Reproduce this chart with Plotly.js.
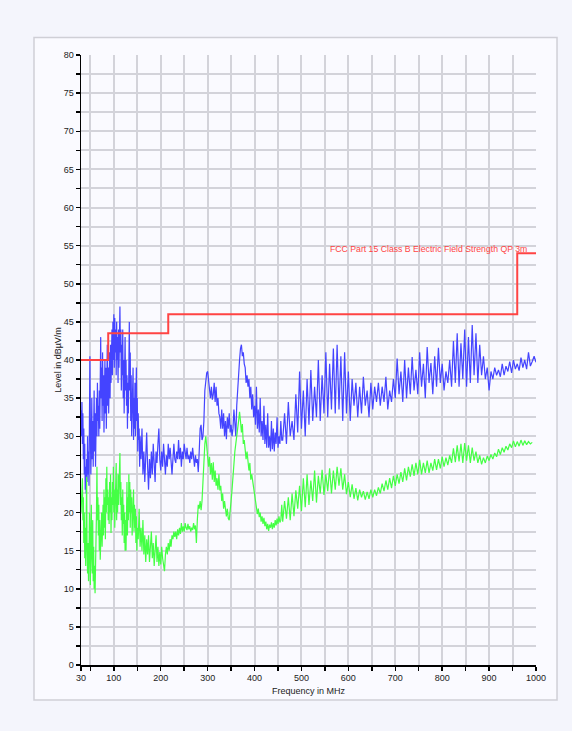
<!DOCTYPE html>
<html>
<head>
<meta charset="utf-8">
<script src="https://cdn.plot.ly/plotly-3.0.1.min.js"></script>
<style>html,body{margin:0;padding:0;background:#f4f5fc;}</style>
</head>
<body>
<div id="chart" style="width:572px;height:731px;"></div>
<script>
// Peak trace (blue)
const peakFreq = [30,31,32,33,34,35,36,37,38,39,40,41,42,43,44,45,46,47,48,49,50,51,52,53,54,55,56,57,58,59,60,61,62,63,64,65,66,67,68,69,70,71,72,73,74,75,76,77,78,79,80,81,82,83,84,85,86,87,88,89,90,91,92,93,94,95,96,97,98,99,100,101,102,103,104,105,106,107,108,109,110,111,112,113,114,115,116,117,118,119,120,121,122,123,124,125,126,127,128,129,130,131,132,133,134,135,136,137,138,139,140,141,142,143,144,145,146,147,148,149,150,151,152,153,154,155,156,158,160,162,164,166,168,170,172,174,176,178,180,182,184,186,188,190,192,194,196,198,200,202,204,206,208,210,212,214,216,218,220,222,224,226,228,230,232,234,236,238,240,242,244,246,248,250,252,254,256,258,260,262,264,266,268,270,272,274,276,278,280,282,284,286,288,290,292,294,296,298,300,302,304,306,308,310,312,314,316,318,320,322,324,326,328,330,332,334,336,338,340,342,344,346,348,350,352,354,356,358,360,362,364,366,368,370,372,374,376,378,380,382,384,386,388,390,392,394,396,398,400,402,404,406,408,410,412,414,416,418,420,422,424,426,428,430,432,434,436,438,440,442,444,446,448,450,452,454,456,458,460,464,468,472,476,480,484,488,492,496,500,504,508,512,516,520,524,528,532,536,540,544,548,552,556,560,564,568,572,576,580,584,588,592,596,600,604,608,612,616,620,624,628,632,636,640,644,648,652,656,660,664,668,672,676,680,684,688,692,696,700,704,708,712,716,720,724,728,732,736,740,744,748,752,756,760,764,768,772,776,780,784,788,792,796,800,804,808,812,816,820,824,828,832,836,840,844,848,852,856,860,864,868,872,876,880,884,888,892,896,900,904,908,912,916,920,924,928,932,936,940,944,948,952,956,960,964,968,972,976,980,984,988,992,996,1000];
const peakLevel = [33.4,30,34.5,29,33,27,31,25,29,23,26,22.5,27,24,30,25,28,23.5,31,40.5,31,25,29,35,27,32,26,30,36,28,33,26,31,35,30,37,32,34,30,36,31,38,43,35,39,32,41,34,38,30.5,36,40,33,39,31,37,42,34,39,33,38,41,35,42,37,40,44,38,45,40,46,39,45.5,41,44,38,45,40,43,37,44,39,46,47,41,44,36,42,38,44,35,40,33,39,43,36,40,34,38,31,37,33,40,45,36,41,32,38,30,36,33,39,29.5,35,31,37,30,34,39,32,35,28,33,29.5,31,26,30,27,31,25,28,24,29,30.5,26,23,27,24.5,28,25,29,26,24,28,26.5,29,31,27,25.5,28,26,29,27,25,27.5,26,29,27,28.5,26,25,27,29,27,26.5,28,27,29.5,27,28.5,26,28,27,29,28,27,28.5,27,27.5,26.5,28,27,28.5,27,26,27.5,26.5,27,25.3,28,31,31.5,29.5,30,32,36,37.5,38.3,38.5,37.5,36,35,36.5,34.8,35.5,37,34.5,36.5,34,35,33,32.5,31,33.5,31,33,30,32,29.6,32.5,31,33,30.5,31.5,30,31,33.5,32,30,34,36.5,38.5,40,41.5,42,40.5,41,39.5,39,37,38,36.5,37.5,35,36.5,33.5,35.5,32.5,34,31.5,36.5,31,33.5,30.5,35,30,32,29.5,34,29,31.5,28.5,33,28.5,30,28,32,28.3,31,28,30.5,29,32.5,28.5,30,29,32,29.5,29.5,33,29,34.5,30,32,29.5,35.5,30.5,38.5,31,36,30,37.5,31.5,38.7,32,36.5,32.5,40,32,38,33,41,32.5,39.5,33.5,41.5,33,42,33.5,40.5,32,41,33,38.5,32,37.5,34,37,32.5,36.5,33,37.8,34,36,32.5,37,33.5,36.5,34.5,37,34,36.5,34.5,37.8,33.5,36,34.5,37.5,35,40.2,35.5,38.5,34.5,40,35,39,35.5,40.4,36,38.7,35.5,41,36.5,39.5,35,41.7,37,39.6,35.5,40.5,36.5,41.6,37,39.5,36,38.5,37,40,36.5,42.5,37,43.5,36.5,42.2,37.5,44,36.5,43,37,44.6,38,43.5,37,42,38,40.5,37.5,39,36,38.5,37.5,39,38,38.7,37.8,39.5,38,39.2,38.5,39.8,38.3,40,38.8,39.5,38.6,40.3,39,40,38.8,41,39.2,39.8,40.5,39.7];

// Average trace (green)
const avgFreq = [30,31,32,33,34,35,36,37,38,39,40,41,42,43,44,45,46,47,48,49,50,51,52,53,54,55,56,57,58,59,60,61,62,63,64,65,66,67,68,69,70,71,72,73,74,75,76,77,78,79,80,81,82,83,84,85,86,87,88,89,90,91,92,93,94,95,96,97,98,99,100,101,102,103,104,105,106,107,108,109,110,111,112,113,114,115,116,117,118,119,120,121,122,123,124,125,126,127,128,129,130,131,132,133,134,135,136,137,138,139,140,141,142,143,144,145,146,147,148,149,150,152,154,156,158,160,162,164,166,168,170,172,174,176,178,180,182,184,186,188,190,192,194,196,198,200,202,204,206,208,210,212,214,216,218,220,222,224,226,228,230,232,234,236,238,240,242,244,246,248,250,252,254,256,258,260,262,264,266,268,270,272,274,276,278,280,282,284,286,288,290,292,294,296,298,300,302,304,306,308,310,312,314,316,318,320,322,324,326,328,330,332,334,336,338,340,342,344,346,348,350,352,354,356,358,360,362,364,366,368,370,372,374,376,378,380,382,384,386,388,390,392,394,396,398,400,402,404,406,408,410,412,414,416,418,420,422,424,426,428,430,432,434,436,438,440,442,444,446,448,450,452,454,456,458,460,464,468,472,476,480,484,488,492,496,500,504,508,512,516,520,524,528,532,536,540,544,548,552,556,560,564,568,572,576,580,584,588,592,596,600,604,608,612,616,620,624,628,632,636,640,644,648,652,656,660,664,668,672,676,680,684,688,692,696,700,704,708,712,716,720,724,728,732,736,740,744,748,752,756,760,764,768,772,776,780,784,788,792,796,800,804,808,812,816,820,824,828,832,836,840,844,848,852,856,860,864,868,872,876,880,884,888,892,896,900,904,908,912,916,920,924,928,932,936,940,944,948,952,956,960,964,968,972,976,980,984,988,992,996,1000];
const avgLevel = [20,23,21.5,24.5,19,22,16,20,14,18,13,17,24.7,15,12,16,11,14,20,13,10.5,18,21,14,12,19,11,15.5,10,13,9.4,12,15,20,26,19,22,17,21,15,19,13.8,18,16,20,15.5,19,21,17,23,18,22,16.5,24.5,20,26,21,23,19,22,18.5,24,20,25,17.3,22,19,24,21,26,20,23,18,24,21,26.5,19,23,20,25,21,24,26,27.8,21,24,19,22,17,23,18.5,21,16,20,15,19,15,21,24,17,22,19,25,20,24,18,23,20,22,17,21,19,23,17.5,21,18,20.5,16,19.5,15,18,16.5,20.5,15.5,18,15,19,14.5,17,13.5,16.5,14.5,17,13.5,15.5,17.5,14,16,13,15,17,13.5,15.5,13,14.8,13.2,15.5,14,13,12.3,14.5,15.5,14.5,16,15,16.5,15.5,17,16.5,17.5,16.8,17.5,16.5,17.8,17,18,17.2,18.6,17.5,18.2,17.5,18.6,18,17.7,18.5,17.8,18.2,17.5,18,17.7,18.6,17.8,18.3,16,19,21,20.5,21.5,20.3,21.5,24,27,29,30,28.5,27,26,27.3,25,26.5,24.3,26.6,24,25.5,23.5,24.5,23,25,22.9,23.5,21.5,22.5,20.5,21.5,20,19.5,20.5,19.2,19,20,21.5,23,25,26.5,28,29,30.5,31,32,33.2,32,30.5,31.6,29,29.5,28,27,28,26,25.5,26.5,24.3,25,24,23,22,21,20.5,19.8,20.5,19.4,20,18.8,19.5,18.5,19.3,18.2,18.8,17.8,18.5,17.6,18.4,18,18.7,17.8,18.6,18,19,18.3,19.2,18.5,19.5,18.7,19,21,18.8,21.5,19.2,22,19,22.5,19.5,22.9,20.5,23.5,20.2,24.5,20.7,25,21,24.2,21.5,25.5,21.3,24.8,22.5,25.6,22.3,25,22.8,25.8,22.5,25.5,23,26,23.5,25.8,23,25,22.4,24,22,23.7,21.8,23.2,21.6,23,22,22.8,21.7,22.7,21.8,23,22,23,22.2,23.3,22.5,23.8,22.8,24.2,23,24.5,23.2,24.8,23.5,25,23.8,25.3,24,25.8,24.2,26,24.7,26.3,24.8,26.5,25,26.9,25,26.5,25.2,26.8,25.2,26.5,25.5,27,25.6,27,25.8,27.3,26,27.2,26.2,27.5,26.5,28.4,26.6,28.8,26.7,29,26.5,29.1,26.8,28.8,26.5,28.5,26.8,28,26.5,27.5,26.3,27.2,26.5,27.4,26.8,27.6,27,27.8,27.3,28.3,27.6,28.5,27.9,28.7,28.2,29,28.5,29.4,28.6,29.3,28.7,29.5,28.8,29.4,28.9,29.3,29,29.2];

// FCC Part 15 Class B limit (QP, 3 m)
const limitFreq = [30,88,88,216,216,960,960,1000];
const limitLevel = [40,40,43.5,43.5,46,46,54,54];
const limitLabel = "FCC Part 15 Class B Electric Field Strength QP 3m";

// x ticks: labelled ones and unlabelled 50-MHz grid positions
const xTickVals = [30,50,100,150,200,250,300,350,400,450,500,550,600,650,700,750,800,850,900,950,1000];
const xTickText = ["30","","100","","200","","300","","400","","500","","600","","700","","800","","900","","1000"];

const gridCol = "#d3d3da";
const traces = [
  {x: peakFreq, y: peakLevel, type: "scatter", mode: "lines", line: {color: "#4444ff", width: 1.2}, hoverinfo: "skip"},
  {x: avgFreq, y: avgLevel, type: "scatter", mode: "lines", line: {color: "#44ff44", width: 1.2}, hoverinfo: "skip"},
  {x: limitFreq, y: limitLevel, type: "scatter", mode: "lines", line: {color: "#ff4444", width: 2}, hoverinfo: "skip"}
];

const layout = {
  width: 572, height: 731,
  margin: {l: 81, r: 36, t: 55, b: 66, pad: 0},
  paper_bgcolor: "#f4f5fc",
  plot_bgcolor: "#fafaff",
  showlegend: false,
  font: {family: "Liberation Sans, Arial, sans-serif", size: 9, color: "#222"},
  xaxis: {
    range: [30, 1000], tickmode: "array", tickvals: xTickVals, ticktext: xTickText,
    showline: true, linecolor: "#000", linewidth: 1.5, mirror: false,
    ticks: "outside", ticklen: 4, tickwidth: 1.5, tickcolor: "#000",
    showgrid: true, gridcolor: gridCol, gridwidth: 2, zeroline: false,
    title: {text: "Frequency in MHz", font: {size: 9, color: "#222"}, standoff: 5},
    tickfont: {size: 9, color: "#222"}
  },
  yaxis: {
    range: [0, 80], dtick: 5, tick0: 0,
    showline: true, linecolor: "#000", linewidth: 1.5,
    ticks: "outside", ticklen: 4, tickwidth: 1.5, tickcolor: "#000",
    showgrid: true, gridcolor: gridCol, gridwidth: 2, zeroline: false,
    minor: {dtick: 2.5, ticks: "outside", ticklen: 4, tickwidth: 1.5, tickcolor: "#000", showgrid: true, gridcolor: gridCol, gridwidth: 2},
    title: {text: "Level in dBµV/m", font: {size: 9, color: "#222"}, standoff: 0},
    tickfont: {size: 9, color: "#222"}
  },
  shapes: [
    {type: "rect", xref: "paper", yref: "paper", x0: -0.1033, x1: 1.0462, y0: -0.0574, y1: 1.0287,
     fillcolor: "#fafaff", line: {color: "#cfcfd6", width: 1.5}, layer: "below"}
  ],
  annotations: [
    {x: 985, y: 54.6, xref: "x", yref: "y", text: limitLabel, showarrow: false, xanchor: "right", yanchor: "middle",
     font: {size: 8.7, color: "#ff4444", family: "Liberation Sans, Arial, sans-serif"}}
  ]
};

Plotly.newPlot("chart", traces, layout, {displayModeBar: false, staticPlot: true});
</script>
</body>
</html>
